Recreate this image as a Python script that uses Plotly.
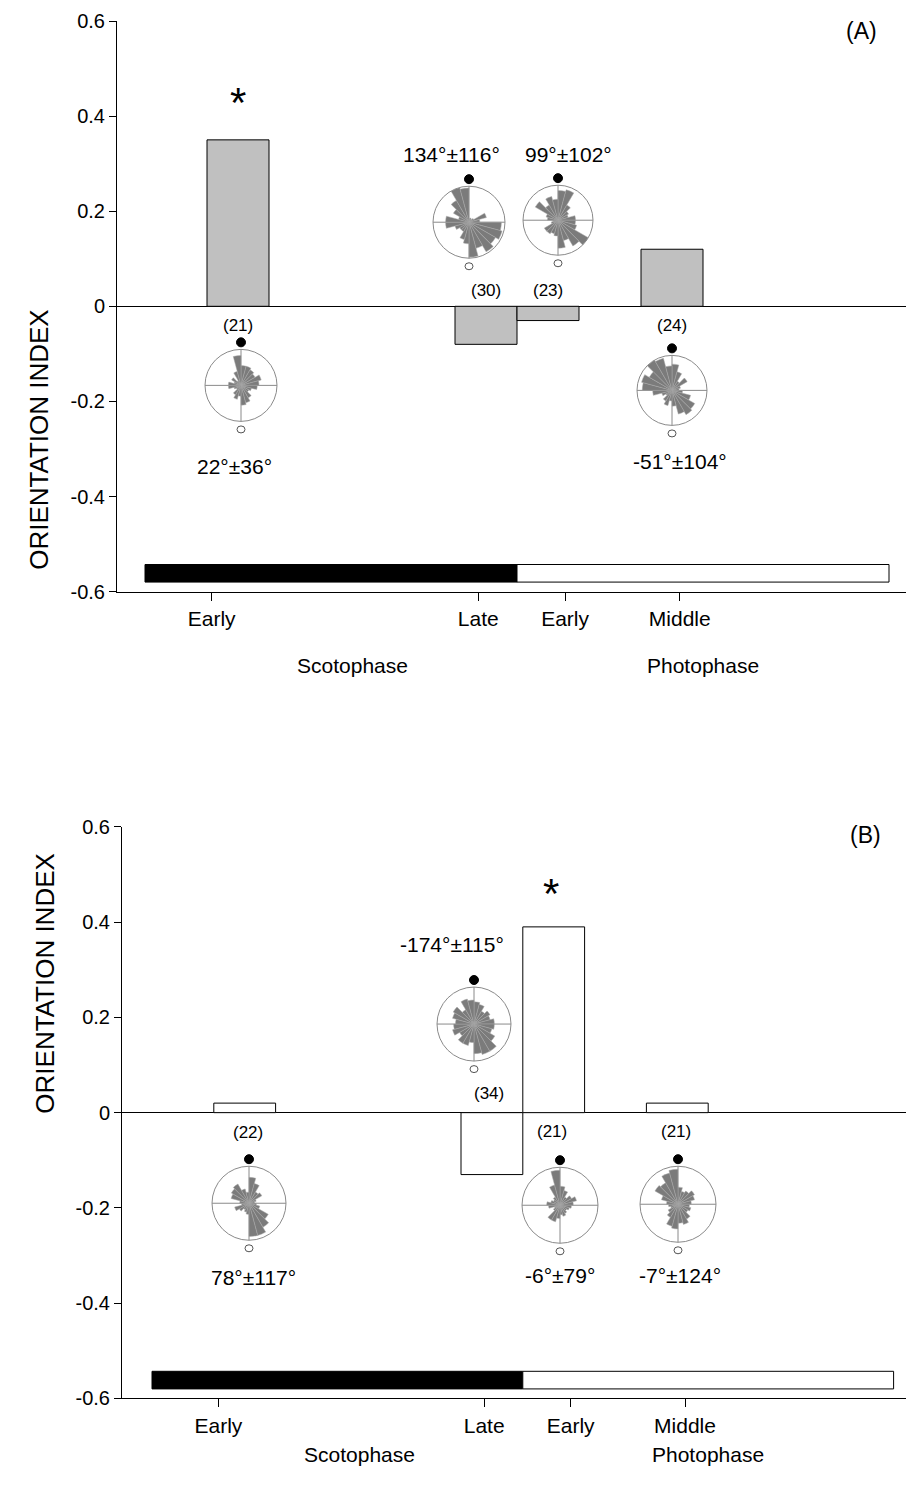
import plotly.graph_objects as go

W, H = 898, 1470
FONT = "Liberation Sans, Arial, sans-serif"
# measured mapping of figure pixels to the photographed window
OX = 8          # horizontal page offset
OY = 19         # vertical page offset
SY = 0.984      # vertical scale of the photo

# ---------------- data ----------------
phase_ticks = ["Early", "Late", "Early", "Middle"]
phase_tick_hours = [2.15, 10.75, 13.55, 17.25]
bar_hours = [3, 11, 13, 17]
bar_width_h = 2
oi_A = [0.35, -0.08, -0.03, 0.12]
oi_B = [0.02, -0.13, 0.39, 0.02]
n_A = ["(21)", "(30)", "(23)", "(24)"]
n_B = ["(22)", "(34)", "(21)", "(21)"]
mean_A = ["22°±36°", "134°±116°", "99°±102°", "-51°±104°"]
mean_B = ["78°±117°", "-174°±115°", "-6°±79°", "-7°±124°"]
y_ticks = [0.6, 0.4, 0.2, 0, -0.2, -0.4, -0.6]
y_tick_text = ["0.6", "0.4", "0.2", "0", "-0.2", "-0.4", "-0.6"]
dark_phase = [0, 12]
light_phase = [12, 24]

sector_deg = [7.5, 22.5, 37.5, 52.5, 67.5, 82.5, 97.5, 112.5, 127.5, 142.5, 157.5, 172.5,
              187.5, 202.5, 217.5, 232.5, 247.5, 262.5, 277.5, 292.5, 307.5, 322.5, 337.5, 352.5]
rose_A1 = [0.55, 0.55, 0.5, 0.45, 0.58, 0.5, 0.45, 0.3, 0.25, 0.4, 0.5, 0.55,
           0.3, 0.4, 0.3, 0.15, 0.2, 0.35, 0.35, 0.2, 0.3, 0.15, 0.4, 0.83]
rose_A2 = [0.1, 0.12, 0.1, 0.15, 0.5, 0.3, 0.9, 0.95, 0.85, 0.95, 0.75, 0.97,
           0.6, 0.5, 0.3, 0.3, 0.4, 0.65, 0.65, 0.3, 0.5, 0.7, 1.0, 0.95]
rose_A3 = [0.85, 0.9, 0.5, 0.35, 0.3, 0.5, 0.5, 0.55, 1.0, 0.85, 0.6, 0.8,
           0.45, 0.4, 0.45, 0.45, 0.2, 0.15, 0.3, 0.35, 0.75, 0.5, 0.7, 0.6]
rose_A4 = [0.75, 0.55, 0.3, 0.5, 0.25, 0.2, 0.3, 0.55, 0.75, 0.8, 0.7, 0.45,
           0.3, 0.45, 0.35, 0.2, 0.3, 0.55, 0.85, 0.9, 0.75, 1.0, 0.95, 0.7]
rose_B1 = [0.7, 0.55, 0.35, 0.4, 0.2, 0.15, 0.2, 0.3, 0.6, 0.75, 0.9, 0.9,
           0.3, 0.25, 0.2, 0.3, 0.4, 0.2, 0.25, 0.5, 0.55, 0.6, 0.4, 0.3]
rose_B2 = [0.6, 0.55, 0.4, 0.5, 0.45, 0.55, 0.55, 0.5, 0.65, 0.85, 0.85, 0.8,
           0.5, 0.6, 0.6, 0.45, 0.6, 0.55, 0.5, 0.6, 0.65, 0.45, 0.7, 0.65]
rose_B3 = [0.5, 0.4, 0.25, 0.35, 0.45, 0.35, 0.3, 0.25, 0.2, 0.25, 0.3, 0.25,
           0.35, 0.45, 0.45, 0.2, 0.15, 0.3, 0.35, 0.25, 0.2, 0.25, 0.55, 0.92]
rose_B4 = [0.45, 0.35, 0.4, 0.5, 0.45, 0.35, 0.3, 0.35, 0.3, 0.45, 0.55, 0.5,
           0.65, 0.6, 0.4, 0.3, 0.2, 0.25, 0.3, 0.45, 0.7, 0.65, 0.85, 0.92]


# ---------------- layout helpers (window pixel placements) ----------------
def px(x):
    return min(1.0, max(0.0, (x - OX) / W))


def py(y):
    return min(1.0, max(0.0, 1 - ((y - OY) / SY) / H))


RIGHT = OX + W
XR_A = [(117 - 145) / 31, (RIGHT - 145) / 31]
XR_B = [(122 - 152) / 30.9, (RIGHT - 152) / 30.9]
xdomA = [px(117), 1.0]
xdomB = [px(122), 1.0]
ydomA = [py(591), py(21)]
ydomB = [py(1397), py(826)]

n_pos_A = [(3.0, -0.04), (11.0, 0.034), (13.0, 0.034), (17.0, -0.04)]
n_pos_B = [(3.1, -0.042), (10.9, 0.04), (12.95, -0.04), (16.95, -0.04)]
mean_pos_A = [(2.9, -0.337), (9.9, 0.32), (13.65, 0.32), (17.25, -0.326)]
mean_pos_B = [(3.3, -0.346), (9.7, 0.352), (13.2, -0.342), (17.1, -0.342)]
star_A = (3.0, 0.428)
star_B = (12.9, 0.46)

# rose centres in window pixels (cx, cy, R)
roses = [
    (241, 385, 36, rose_A1), (469, 222, 36, rose_A2), (558, 220, 35, rose_A3), (672, 390, 35, rose_A4),
    (249, 1202, 37, rose_B1), (474, 1023, 37, rose_B2), (560, 1204, 38, rose_B3), (678, 1203, 38, rose_B4),
]

fig = go.Figure()
fig.add_trace(go.Bar(x=bar_hours, y=oi_A, width=[bar_width_h] * 4, xaxis="x", yaxis="y",
                     marker=dict(color="#c0c0c0", line=dict(color="black", width=1)), showlegend=False))
fig.add_trace(go.Bar(x=bar_hours, y=oi_B, width=[bar_width_h] * 4, xaxis="x2", yaxis="y2",
                     marker=dict(color="white", line=dict(color="black", width=1)), showlegend=False))

shapes = []
annotations = []
layout_polars = {}
for i, (cx, cy, R, vals) in enumerate(roses):
    name = "polar" if i == 0 else f"polar{i+1}"
    fig.add_trace(go.Barpolar(theta=sector_deg, r=vals, width=[15] * 24, subplot=name,
                              marker=dict(color="#7b7b7b", line=dict(color="#a8a8a8", width=0.5)),
                              showlegend=False))
    layout_polars[name] = dict(
        domain=dict(x=[px(cx - R), px(cx + R)], y=[py(cy + R), py(cy - R)]),
        bgcolor="rgba(0,0,0,0)",
        radialaxis=dict(visible=False, range=[0, 1]),
        angularaxis=dict(rotation=90, direction="clockwise", tickvals=[0, 90, 180, 270],
                         showticklabels=False, ticks="", showgrid=True, gridcolor="#8a8a8a",
                         gridwidth=1, linecolor="#8a8a8a", linewidth=1),
    )
    shapes.append(dict(type="circle", xref="paper", yref="paper", xsizemode="pixel", ysizemode="pixel",
                       xanchor=px(cx), yanchor=py(cy - R - 7), x0=-4.5, x1=4.5, y0=-4.5, y1=4.5,
                       fillcolor="black", line=dict(color="black", width=1)))
    shapes.append(dict(type="circle", xref="paper", yref="paper", xsizemode="pixel", ysizemode="pixel",
                       xanchor=px(cx), yanchor=py(cy + R + 8), x0=-4, x1=4, y0=-3.5, y1=3.5,
                       fillcolor="white", line=dict(color="#555555", width=1)))

for xr, yr in (("x", "y"), ("x2", "y2")):
    shapes.append(dict(type="rect", xref=xr, yref=yr, x0=dark_phase[0], x1=dark_phase[1], y0=-0.58, y1=-0.543,
                       fillcolor="black", line=dict(color="black", width=1)))
    shapes.append(dict(type="rect", xref=xr, yref=yr, x0=light_phase[0], x1=light_phase[1], y0=-0.58, y1=-0.543,
                       fillcolor="white", line=dict(color="black", width=1)))


def txt(x, y, t, xr, yr, size, **kw):
    d = dict(x=x, y=y, text=t, xref=xr, yref=yr, showarrow=False,
             font=dict(family=FONT, size=size, color="black"))
    d.update(kw)
    annotations.append(d)


for (p, t) in zip(n_pos_A, n_A):
    txt(p[0], p[1], t, "x", "y", 17)
for (p, t) in zip(n_pos_B, n_B):
    txt(p[0], p[1], t, "x2", "y2", 17)
for (p, t) in zip(mean_pos_A, mean_A):
    txt(p[0], p[1], t, "x", "y", 21)
for (p, t) in zip(mean_pos_B, mean_B):
    txt(p[0], p[1], t, "x2", "y2", 21)
txt(star_A[0], star_A[1], "*", "x", "y", 42)
txt(star_B[0], star_B[1], "*", "x2", "y2", 42)
txt(23.1, 0.579, "(A)", "x", "y", 23)
txt(23.1, 0.582, "(B)", "x2", "y2", 23)

# phase names
txt(6.7, py(665), "Scotophase", "x", "paper", 21)
txt(18.0, py(665), "Photophase", "x", "paper", 21)
txt(6.7, 0, "Scotophase", "x2", "paper", 21, yanchor="bottom", borderpad=0)
txt(18.0, 0, "Photophase", "x2", "paper", 21, yanchor="bottom", borderpad=0)

# y-axis titles
txt(px(22), py(307), "ORIENTATION INDEX", "paper", "paper", 26, textangle=-90)
txt(px(28), py(1115), "ORIENTATION INDEX", "paper", "paper", 26, textangle=-90)

xaxis_common = dict(tickvals=phase_tick_hours, ticktext=phase_ticks, ticks="outside",
                    ticklen=8, tickcolor="black", showline=True, linecolor="black", linewidth=1,
                    showgrid=False, zeroline=False, tickfont=dict(family=FONT, size=21, color="black"))
yaxis_common = dict(range=[-0.6, 0.6], tickvals=y_ticks, ticktext=y_tick_text, ticks="outside",
                    ticklen=7, tickcolor="black", showline=True, linecolor="black", linewidth=1,
                    showgrid=False, zeroline=True, zerolinecolor="black", zerolinewidth=1,
                    tickfont=dict(family=FONT, size=20, color="black"))

fig.update_layout(
    width=W, height=H, margin=dict(l=0, r=0, t=0, b=0),
    paper_bgcolor="white", plot_bgcolor="white",
    xaxis=dict(domain=xdomA, anchor="y", range=XR_A, **xaxis_common),
    yaxis=dict(domain=ydomA, anchor="x", **yaxis_common),
    xaxis2=dict(domain=xdomB, anchor="y2", range=XR_B, **xaxis_common),
    yaxis2=dict(domain=ydomB, anchor="x2", **yaxis_common),
    shapes=shapes, annotations=annotations, showlegend=False,
    font=dict(family=FONT, color="black"),
    **layout_polars,
)

fig.write_html("out.html")
